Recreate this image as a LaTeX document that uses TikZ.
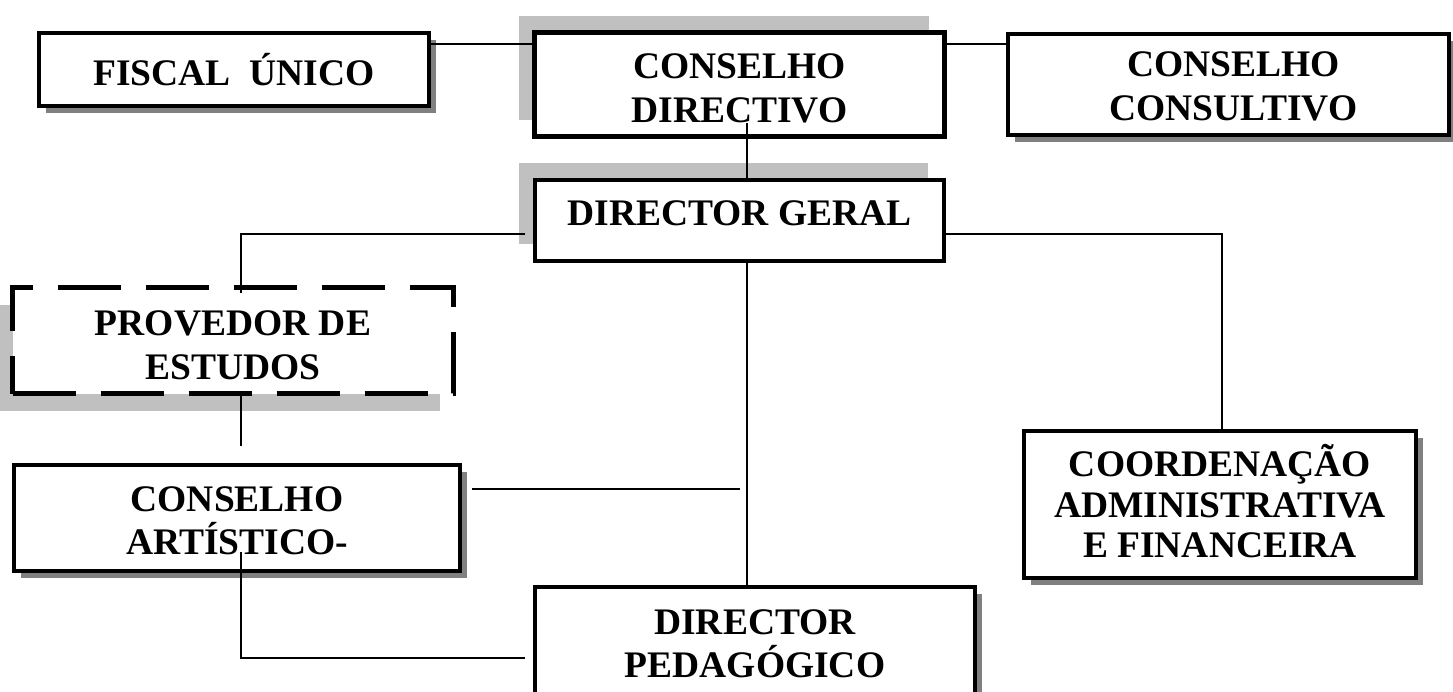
\documentclass[tikz,border=0pt]{standalone}
\usepackage{fontspec}
\setmainfont{Liberation Serif}
\usetikzlibrary{shadows,calc}
\definecolor{shdark}{HTML}{808080}
\definecolor{shlight}{HTML}{C0C0C0}
\tikzset{
  txt/.style={inner sep=0pt, align=center, font=\fontsize{37.5}{43.5}\selectfont\bfseries},
  box/.style={txt, draw=black, fill=white, rectangle},
  dshadow/.style={drop shadow={shadow xshift=7pt, shadow yshift=-7pt, opacity=1, fill=shdark}},
  lshadow/.style={drop shadow={shadow xshift=-16pt, shadow yshift=17pt, opacity=1, fill=shlight}},
  conn/.style={draw=black, line width=1.7pt},
}
\begin{document}
\begin{tikzpicture}[x=1pt,y=-1pt]
\useasboundingbox (0,0) rectangle (1453,691);
\clip (0,0) rectangle (1453,691);
% boxes
\node[box, line width=4pt, minimum width=390pt, minimum height=73pt, dshadow] (fi) at (234,69.5) {FISCAL\ \ ÚNICO};
\node[box, line width=5pt, minimum width=410pt, minimum height=104pt, lshadow] (cd) at (739.5,84.5) {};
\node[txt] (cdt) at ($(cd.center)+(0,4)$) {CONSELHO\\DIRECTIVO};
\node[box, line width=4pt, minimum width=441pt, minimum height=101pt, dshadow] (cc) at (1228.5,84.5) {};
\node[txt] (cct) at ($(cc.center)+(5,2)$) {CONSELHO\\CONSULTIVO};
\node[box, line width=3.5pt, minimum width=409pt, minimum height=81pt, lshadow] (dg) at (739.5,220.5) {};
\node[txt] (dgt) at ($(dg.center)+(0,-7.5)$) {DIRECTOR GERAL};
\node[box, line width=5pt, dash pattern=on 63pt off 25pt, minimum width=441pt, minimum height=106pt,
  drop shadow={shadow xshift=-14pt, shadow yshift=-17pt, opacity=1, fill=shlight}] (pr) at (233,340.5) {};
\node[txt] (prt) at ($(pr.center)+(0,5)$) {PROVEDOR DE\\ESTUDOS};
\node[box, line width=3.5pt, minimum width=446pt, minimum height=106pt, dshadow] (ca) at (237,518) {};
\node[txt] (cat) at ($(ca.center)+(0,3)$) {CONSELHO\\ARTÍSTICO-};
\node[box, line width=3.5pt, minimum width=440pt, minimum height=122pt, dshadow] (dp) at (755,648) {};
\node[txt] (dpt) at ($(dp.center)+(0,-4)$) {DIRECTOR\\PEDAGÓGICO};
\node[box, line width=3.5pt, minimum width=392pt, minimum height=147pt, dshadow] (co) at (1220,504.5) {};
\node[txt, font=\fontsize{37.5}{40.5}\selectfont\bfseries] (cot) at ($(co.center)+(0,-3)$) {COORDENAÇÃO\\ADMINISTRATIVA\\E FINANCEIRA};
% connector points
\coordinate (ytop) at (0,44);
\coordinate (cdin) at (747,123);
\coordinate (dgl) at (525,234);
\coordinate (lx) at (241,234);
\coordinate (prin) at (241,293);
\coordinate (caup) at (241,446);
\coordinate (dgr) at (1222,234);
\coordinate (dgb) at (747,259);
\coordinate (car) at (740,489);
\coordinate (cain) at (241,552);
\coordinate (cabot) at (241,658);
\coordinate (dpl) at (525,658);
% connectors
\draw[conn] (fi.east |- ytop) -- (cd.west |- ytop);
\draw[conn] (cd.east |- ytop) -- (cc.west |- ytop);
\draw[conn] (cdin) -- (cdin |- dg.north);
\draw[conn] (dgl) -- (lx) -- (prin);
\draw[conn] (caup |- pr.south) -- (caup);
\draw[conn] (dg.east |- dgr) -- (dgr) -- (dgr |- co.north);
\draw[conn] (dgb) -- (dgb |- dp.north);
\draw[conn] ([xshift=10pt]ca.east |- car) -- (car);
\draw[conn] (cain) -- (cabot) -- (dpl);
\end{tikzpicture}
\end{document}
